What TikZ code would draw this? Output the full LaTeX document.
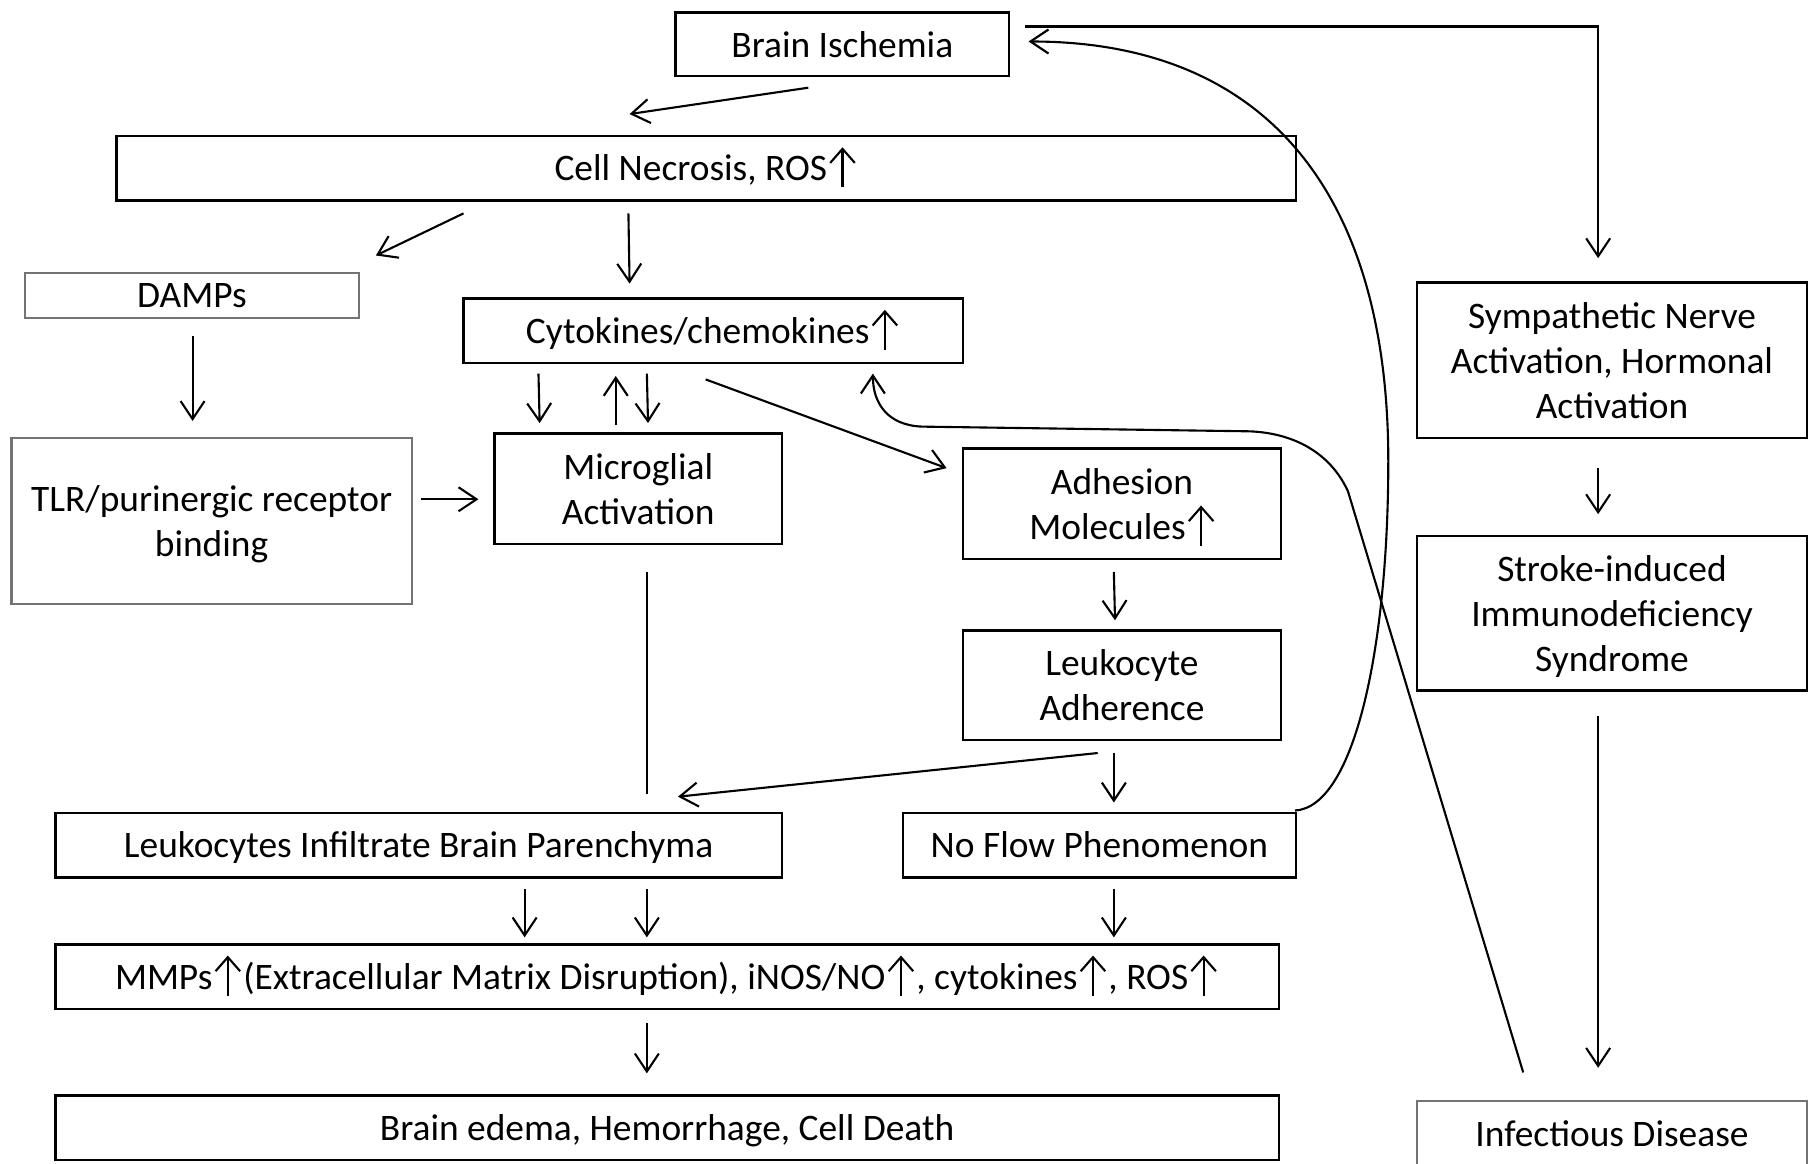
\documentclass[tikz,border=0pt]{standalone}
\usepackage{fontspec}
\setmainfont{Carlito}
\usetikzlibrary{arrows.meta,calc}
\newcommand\upar{\hspace{0.6pt}\raisebox{0pt}[6.8pt][0pt]{\tikz[baseline=0pt]\draw[line width=0.6pt,-{Straight Barb[length=4pt,width=7pt]}] (0,-1.85pt) -- (0,9.6pt);}\hspace{0.6pt}}
\newcommand\nd[1]{\raisebox{0pt}[\height][0pt]{#1}}
\def\u{0.011531cm}
\tikzset{
  box/.style={draw=black, line width=0.7pt, inner sep=0pt, align=center, font=\fontsize{10.65}{12.8}\selectfont},
  gbox/.style={box, draw=black!55, line width=0.6pt},
  sl/.style={text height=9.8pt, text depth=2.6pt},
  arr/.style={line width=0.6pt, -{Straight Barb[length=1.8mm,width=2.4mm]}},
  ln/.style={line width=0.6pt},
}
\begin{document}
\begin{tikzpicture}[x=0.011531cm,y=-0.011531cm]
\useasboundingbox (0,0) rectangle (1568,1009);
% boxes
\node[box, sl, minimum width={289*\u}, minimum height={55*\u}] (bi) at (730.5,38.5) {Brain Ischemia};
\node[box, sl, minimum width={1023*\u}, minimum height={56*\u}] (cn) at (612.5,146) {Cell Necrosis, ROS\upar};
\node[gbox, sl, minimum width={289*\u}, minimum height={39*\u}] (damps) at (166.5,256) {DAMPs};
\node[box, sl, minimum width={433*\u}, minimum height={56*\u}] (cyto) at (618.5,287) {Cytokines/chemokines\upar};
\node[gbox, minimum width={347*\u}, minimum height={144*\u}] (tlr) at (183.5,452) {TLR/purinergic receptor\\\nd{binding}};
\node[box, minimum width={249*\u}, minimum height={96*\u}] (micro) at (553.5,424) {Microglial\\Activation};
\node[box, minimum width={276*\u}, minimum height={96*\u}] (adh) at (973,437) {Adhesion\\Molecules\upar};
\node[box, minimum width={276*\u}, minimum height={95*\u}] (ladh) at (973,594.5) {Leukocyte\\Adherence};
\node[box, sl, minimum width={630*\u}, minimum height={56*\u}] (linf) at (363,733) {Leukocytes Infiltrate Brain Parenchyma};
\node[box, sl, minimum width={341*\u}, minimum height={56*\u}] (nof) at (953.5,733) {No Flow Phenomenon};
\node[box, sl, minimum width={1061*\u}, minimum height={56*\u}] (mmps) at (578.5,847) {MMPs\upar(Extracellular Matrix Disruption), iNOS/NO\upar, cytokines\upar, ROS\upar};
\node[box, sl, minimum width={1061*\u}, minimum height={56*\u}] (edema) at (578.5,978) {Brain edema, Hemorrhage, Cell Death};
\node[box, minimum width={338*\u}, minimum height={135*\u}] (symp) at (1398,312.5) {Sympathetic Nerve\\Activation, Hormonal\\Activation};
\node[box, minimum width={338*\u}, minimum height={134*\u}] (sid) at (1398,532) {Stroke-induced\\Immunodeficiency\\\nd{Syndrome}};
\node[gbox, sl, minimum width={338*\u}, minimum height={56*\u}] (inf) at (1398,983) {Infectious Disease};
% straight connectors
\draw[arr] ($(bi.south)+(-29.5,9)$) -- ($(cn.north)+(-66.5,-18)$);
\draw[arr] ($(cn.south)+(-210.5,10)$) -- ($(damps.north)+(159.5,-14)$);
\draw[arr] ($(cn.south)+(-67.5,10)$) -- ($(cyto.north)+(-72.5,-12)$);
\draw[arr] ($(damps.south)+(0.5,15)$) -- ($(tlr.north)+(-16.5,-14)$);
\draw[arr] ($(tlr.east)+(7,-19)$) -- ($(micro.west)+(-13,9)$);
\draw[arr] ($(cyto.south)+(-151.5,8)$) -- ($(micro.north)+(-85.5,-8)$);
\draw[arr] ($(micro.north)+(-19.5,-6)$) -- ($(cyto.south)+(-84.5,10)$);
\draw[arr] ($(cyto.south)+(-57.5,8)$) -- ($(micro.north)+(8.5,-8)$);
\draw[arr] ($(cyto.south)+(-6.5,13)$) -- ($(adh.west)+(-13,-31)$);
\draw[arr] ($(adh.south)+(-7,10)$) -- ($(ladh.north)+(-6,-8)$);
\draw[arr] ($(ladh.south)+(-21,10)$) -- ($(linf.north)+(225,-13)$);
\draw[arr] ($(ladh.south)+(-7,10)$) -- ($(nof.north)+(12.5,-8)$);
\draw[ln] ($(micro.south)+(7.5,23)$) -- ($(linf.north)+(198,-15)$);
\draw[arr] ($(linf.south)+(92,9)$) -- ($(mmps.north)+(-123.5,-5)$);
\draw[arr] ($(linf.south)+(198,9)$) -- ($(mmps.north)+(-17.5,-5)$);
\draw[arr] ($(nof.south)+(12.5,9)$) -- ($(mmps.north)+(387.5,-5)$);
\draw[arr] ($(mmps.south)+(-17.5,11)$) -- ($(edema.north)+(-17.5,-18)$);
\draw[arr] ($(bi.east)+(13,-15.5)$) -| ($(symp.north)+(-12,-20)$);
\draw[arr] ($(symp.south)+(-12,25)$) -- ($(sid.north)+(-12,-18)$);
\draw[arr] ($(sid.south)+(-12,21)$) -- ($(inf.north)+(-12,-28)$);
% curved connectors
\draw[arr] ($(nof.north east)+(-2,-1)$) .. controls (1175,700) and (1204,560) .. (1204,400)
  .. controls (1204,170) and (1100,36) .. ($(bi.east)+(16,-2.5)$);
\draw[arr] ($(inf.north)+(-77,-24)$) -- (1169,426) .. controls (1150,385) and (1110,374) .. (1079,374)
  -- (800,370) .. controls (770,369) and (757,350) .. ($(cyto.south)+(138.5,8)$);
\end{tikzpicture}
\end{document}
